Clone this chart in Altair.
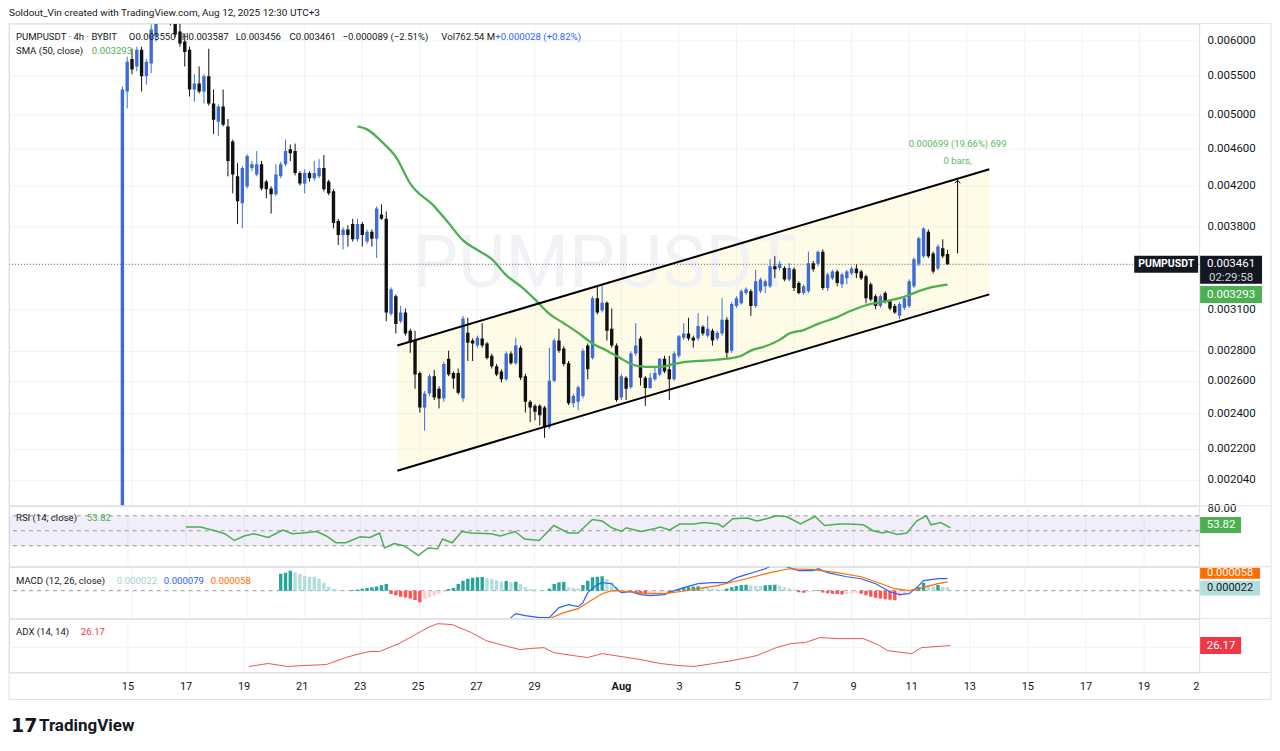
import altair as alt
import pandas as pd

U = 1e-6  # all *_u arrays are prices in micro-USDT (price x 1e6)

# ---------------- candles (4h bars, bar 0 = Jul 14 19:00 UTC+3) ----------------
opens_u = [1850,5290,5730,5625,5860,5490,5665,6055,6600,6360, 6600,6410,6130,5980,5860,5315,5395,5290,5490,5135,
           4910,5100,4855,4680,4295,4020,4190,4385,4315,4425, 4240,4170,4110,4295,4425,4590,4570,4330,4220,4330,
           4275,4295,4385,4240,4140,3850,3720,3770,3820,3680, 3820,3660,3750,3685,3910,3870,3065,3200,3010,3075,
           2940,2870,2650,2435,2520,2630,2550,2490,2745,2650, 2650,2490,2925,2870,2835,2885,2850,2765,2695,2660,
           2610,2780,2715,2820,2630,2470,2445,2445,2435,2320, 2600,2870,2815,2715,2460,2470,2505,2835,2750,3185,
           3090,3150,2955,2835,2495,2620,2560,2780,2885,2620, 2555,2610,2640,2745,2675,2610,2765,2890,2920,2890,
           2885,2970,2905,2940,2885,2920,3020,2800,3125,3145, 3225,3240,3125,3240,3280,3280,3445,3430,3430,3335,
           3420,3305,3225,3240,3470,3465,3570,3265,3345,3400, 3295,3345,3385,3425,3400,3360,3295,3200,3125,3225,
           3160,3125,3050,3110,3125,3280,3465,3530,3750,3555, 3425,3600,3550]
highs_u = [5355,5760,5875,5905,5905,5730,6235,6600,6760,6845, 6680,6520,6250,6100,5905,5520,5625,5520,5875,5315,
           5125,5315,4945,4700,4435,4405,4535,4460,4570,4460, 4260,4190,4425,4450,4700,4645,4655,4350,4370,4350,
           4460,4480,4525,4260,4160,3870,3790,3810,3870,3870, 3840,3770,3770,3990,4010,3940,3270,3215,3125,3105,
           2955,2940,2660,2535,2645,2670,2565,2725,2800,2660, 2680,3050,3035,2885,2905,2995,2860,2780,2710,2675,
           2795,2795,2890,2835,2645,2480,2455,2455,2445,2820, 2885,2955,2830,2730,2520,2570,2815,2850,3200,3280,
           3280,3160,3105,2850,2645,2630,2795,2995,2900,2630, 2650,2695,2750,2765,2765,2795,2910,2995,3035,2905,
           3070,2980,3050,2955,2940,3185,3040,3155,3200,3255, 3270,3255,3415,3350,3335,3505,3530,3490,3445,3470,
           3435,3320,3295,3570,3490,3580,3590,3390,3415,3415, 3390,3415,3445,3460,3415,3375,3310,3215,3215,3240,
           3175,3140,3155,3200,3335,3520,3705,3790,3770,3570, 3635,3680,3587]
lows_u = [1800,5075,5520,5560,5290,5380,5535,5980,6280,6310, 6220,6040,5905,5625,5225,5160,5265,5135,5110,4765,
          4740,4855,4295,4120,3820,3780,4170,4350,4295,4150, 4070,3920,4090,4275,4405,4460,4305,4200,4120,4240,
          4250,4275,4140,4100,3780,3630,3590,3615,3660,3660, 3615,3640,3615,3515,3860,3010,3050,2920,2995,2905,
          2785,2550,2405,2300,2505,2480,2430,2470,2630,2550, 2515,2470,2730,2730,2820,2820,2740,2680,2630,2590,
          2600,2705,2705,2605,2405,2350,2360,2330,2260,2310, 2590,2785,2695,2450,2435,2420,2490,2610,2740,3060,
          3075,2870,2820,2470,2480,2480,2550,2765,2570,2445, 2550,2600,2630,2650,2480,2600,2750,2875,2870,2820,
          2870,2905,2890,2835,2870,2905,2750,2785,3110,3135, 3210,3050,3110,3225,3225,3265,3345,3410,3320,3320,
          3240,3215,3210,3225,3400,3445,3250,3240,3330,3280, 3265,3295,3370,3345,3330,3145,3160,3100,3110,3145,
          3090,3065,3025,3095,3110,3265,3445,3515,3515,3385, 3410,3515,3456]
closes_u = [5315,5690,5585,5860,5490,5690,6160,6520,6360,6680, 6280,6085,5950,5830,5315,5395,5290,5490,5135,4935,
            5100,4875,4460,4315,4040,4385,4515,4425,4425,4170, 4160,4110,4315,4425,4570,4545,4330,4220,4330,4275,
            4330,4385,4160,4120,3830,3720,3770,3720,3680,3820, 3720,3750,3685,3970,3870,3075,3255,2990,3075,2920,
            2855,2640,2435,2520,2630,2495,2490,2710,2640,2615, 2525,3030,2855,2850,2890,2835,2750,2695,2640,2610,
            2780,2715,2835,2620,2470,2435,2410,2390,2320,2600, 2870,2800,2710,2460,2505,2560,2800,2675,3185,3075,
            3150,2940,2835,2480,2630,2550,2780,2835,2620,2555, 2620,2650,2745,2660,2610,2780,2900,2920,2885,2870,
            2975,2920,2955,2870,2925,3020,2785,3140,3185,3240, 3255,3125,3320,3335,3320,3445,3420,3465,3335,3430,
            3265,3225,3280,3470,3420,3570,3265,3375,3400,3305, 3375,3400,3425,3385,3345,3185,3175,3125,3200,3160,
            3105,3075,3140,3185,3320,3505,3690,3780,3530,3400, 3615,3530,3461]

# ---------------- indicators (x = bar index) ----------------
sma_k = [49,51,54,57,60,65,68,71,74,77,80,83,86,89,92,95,98,101,104,106,109,112,115,118,120,123,126,129,131,134,
         137,139,142,145,149,152,155,159,162,164,166,168,172]
sma_u = [4855,4820,4680,4505,4220,3990,3830,3670,3585,3505,3370,3280,3175,3065,2995,2925,2850,2800,2745,2710,
         2690,2690,2710,2725,2730,2735,2745,2765,2800,2830,2875,2920,2945,2990,3040,3090,3130,3160,3185,3210,
         3240,3265,3293]

rsi_k = [14,17,20,22,24,26,28,31,34,36,38,41,43,45,47,50,52,54,55,57,59,60,62,64,66,67,69,71,73,77,
         79,81,82,84,87,90,93,95,98,100,102,104,105,108,111,112,114,116,119,121,124,125,127,130,132,134,136,138,139,141,
         144,145,146,149,151,154,156,158,159,161,163,165,167,168,170,172]
rsi_v = [55,55,50,46,37,43,46,41,51,46,47,49,43,34,34,42,41,47,27,33,30,26,17,27,26,39,34,49,47,46,
         43,47,49,39,37,57,47,47,65,63,54,49,54,49,53,55,51,59,59,61,59,55,66,67,63,66,70,69,66,59,
         69,63,57,59,59,58,50,47,49,45,47,63,70,58,61,53.82]

hist_start = 33  # MACD histogram, one value per bar, in 1e-6
hist_u = [112,119,132,122,112,99,92,92,79,53, 26,13,3,1,1,4,8,12,18,22, 28,36,44,-22,-30,-40,-46,-52,-62,-77,
          -55,-44,-30,-20,-8,11,18,44,66,79, 86,89,90,82,76,69,61,64,55,59, 44,22,11,7,3,2,15,44,55,57,
          22,18,15,37,66,88,92,95,77,55, 26,8,2,-5,-12,-18,-22,-20,-18,-15, -12,-13,-5,11,18,24,28,30,24,20,
          15,11,8,14,22,31,37,39,35,33, 32,36,38,39,33,24,15,7,-10,-14, -8,-2,5,-12,-17,-20,-22,-25,-22,-19,
          -16,-20,-30,-40,-47,-52,-56,-60,-63,-40, -22,-3,11,24,50,38,30,37,26,22]
macd_k = [80,81,82,84,87,89,91,93,95,96,97,99,100,102,103,104,106,108,110,113,115,117,120,123,126,128,130,132,134,136,
          137,139,141,144,145,147,151,154,157,160,162,164,166,167,170,172]
macd_u = [-230,-178,-152,-165,-178,-178,-112,-92,-106,-79,-13,40,53,46,13,-13,-7,-26,-33,-26,0,20,46,53,53,86,106,125,145,175,
          175,152,132,132,145,119,92,79,46,-7,-26,-20,33,66,79,79]
signal_k = [88,89,92,95,97,100,102,106,109,113,116,120,124,130,135,139,144,149,154,157,161,164,166,170,172]
signal_u = [-230,-185,-145,-119,-79,-20,0,-7,-20,-20,-7,13,33,79,119,145,139,119,92,59,13,0,13,46,58]

adx_k = [27,31,35,38,43,47,50,52,54,58,61,64,66,69,73,76,79,83,85,88,90,94,97,100,104,108,112,116,119,123,
         127,132,136,139,142,145,149,154,157,159,164,166,169,172]
adx_v = [12.2,14.2,12.2,12.8,13.5,18.2,20.8,22.2,22.2,27.5,32.8,38.2,40.8,40.2,34.8,29.5,26.8,23.5,24.2,24.8,
         21.5,19.5,18.2,20.8,18.8,16.8,14.2,12.8,12.2,14.2,16.2,19.5,24.8,27.5,28.2,31.5,30.8,30.8,26.8,22.8,
         20.8,24.8,25.5,26.17]

# drawings
ch_k = [57.3, 180.7]
ch_upper_u = [2835, 4370]
ch_lower_u = [2085, 3215]
meas_k = 174.1
meas_from_u, meas_to_u = 3555, 4254

last_close_u, last_sma_u = 3461, 3293
last_rsi, last_hist_u, last_macd_u, last_signal_u, last_adx = 53.82, 22, 79, 58, 26.17

price_ticks = [0.006, 0.0055, 0.005, 0.0046, 0.0042, 0.0038, 0.0031, 0.0028, 0.0026, 0.0024, 0.0022, 0.00204]
date_tick_bars = [2, 14, 26, 38, 50, 62, 74, 86, 104, 116, 128, 140, 152, 164, 176, 188, 200, 212, 222.8]
date_tick_labels = ["15", "17", "19", "21", "23", "25", "27", "29", "Aug", "3", "5", "7", "9", "11", "13",
                    "15", "17", "19", "2"]

# ---------------- style ----------------
FONT = "Roboto"
TXT = "#131722"
GRID = "#f0f2f6"
SEP = "#e0e3eb"
UP = "#3d6bd8"
DOWN = "#111111"
GREEN = "#4caf50"
LEG = 9.6
W = 1192
H_MAIN, H_RSI, H_MACD, H_ADX = 483, 61, 52, 54
RIGHT = 1264

one = pd.DataFrame({"a": [0]})
xs = alt.Scale(domain=[-22.6, 223.4], nice=False, zero=False)


def X(f="k"):
    return alt.X(f"{f}:Q", scale=xs, axis=None)


def text(txt, x, y, color=TXT, size=LEG, weight="normal", align="left", font=FONT):
    return alt.Chart(one).mark_text(text=txt, color=color, fontSize=size, fontWeight=weight, align=align,
                                    baseline="middle", font=font).encode(x=alt.value(x), y=alt.value(y))


def hrule(y, x1=0, x2=RIGHT, color=SEP):
    return alt.Chart(one).mark_rule(color=color, strokeWidth=1).encode(
        x=alt.value(x1), x2=alt.value(x2), y=alt.value(y))


def vrule(x, y1, y2, color=SEP):
    return alt.Chart(one).mark_rule(color=color, strokeWidth=1).encode(
        x=alt.value(x), y=alt.value(y1), y2=alt.value(y2))


vg_df = pd.DataFrame({"k": date_tick_bars[:-1]})


def vgrid():
    return alt.Chart(vg_df).mark_rule(color=GRID, strokeWidth=1).encode(x=X())


# ---------------- main price pane ----------------
ps = alt.Scale(type="log", domain=[1913.1 * U, 6250 * U], nice=False, zero=False)
price_axis = alt.Axis(orient="right", values=price_ticks, format=".6f", grid=True, gridColor=GRID,
                      ticks=False, domain=False, labelFont=FONT, labelFontSize=11.5, labelColor=TXT,
                      labelPadding=8, title=None, labelOverlap=False, labelBound=False, labelFlush=False)


def Yp(f):
    return alt.Y(f"{f}:Q", scale=ps, axis=price_axis, title=None)


def Yd(v):
    return alt.YDatum(v, type="quantitative", scale=ps, axis=price_axis)


n = len(opens_u)
cdf = pd.DataFrame({"k": list(range(n)),
                    "o": [v * U for v in opens_u], "h": [v * U for v in highs_u],
                    "l": [v * U for v in lows_u], "c": [v * U for v in closes_u]})
cdf["dir"] = ["up" if c >= o else "down" for o, c in zip(cdf["o"], cdf["c"])]
ccol = alt.Color("dir:N", scale=alt.Scale(domain=["up", "down"], range=[UP, DOWN]), legend=None)

sma_df = pd.DataFrame({"k": sma_k, "v": [v * U for v in sma_u]})
ch_df = pd.DataFrame({"k": ch_k, "lo": [v * U for v in ch_lower_u], "hi": [v * U for v in ch_upper_u]})
meas_df = pd.DataFrame({"k": [meas_k], "a": [meas_from_u * U], "b": [meas_to_u * U]})

bg = alt.Chart(one).mark_rect(color="white", opacity=0).encode(
    x=alt.value(-8), x2=alt.value(1272), y=alt.value(-22), y2=alt.value(729))

channel_fill = alt.Chart(ch_df).mark_area(color="#fbf2a8", opacity=0.28).encode(x=X(), y=Yp("lo"), y2="hi")
watermark = alt.Chart(one).mark_text(text="PUMPUSDT", fontSize=73, color="#f1f2f5", font=FONT,
                                     align="center", baseline="middle").encode(
    x=alt.value(W / 2), y=alt.value(H_MAIN / 2))
price_line = alt.Chart(one).mark_rule(color="#555a66", strokeDash=[1, 2], strokeWidth=1).encode(
    y=Yd(last_close_u * U))
wicks = alt.Chart(cdf).mark_rule(strokeWidth=1, clip=True).encode(x=X(), y=Yp("l"), y2="h", color=ccol)
bodies = alt.Chart(cdf).mark_bar(width=3.4, clip=True).encode(x=X(), y=Yp("o"), y2="c", color=ccol)
sma_line = alt.Chart(sma_df).mark_line(color=GREEN, strokeWidth=2.3, interpolate="monotone", clip=True).encode(
    x=X(), y=Yp("v"))
ch_hi = alt.Chart(ch_df).mark_line(color="black", strokeWidth=2).encode(x=X(), y=Yp("hi"))
ch_lo = alt.Chart(ch_df).mark_line(color="black", strokeWidth=2).encode(x=X(), y=Yp("lo"))
meas_rule = alt.Chart(meas_df).mark_rule(color="black", strokeWidth=1).encode(x=X(), y=Yp("a"), y2="b")
meas_head = alt.Chart(meas_df).mark_point(shape="M-0.8,0.9L0,0L0.8,0.9", size=45, filled=False, color="black",
                                          strokeWidth=1, opacity=1).encode(x=X(), y=Yp("b"))
meas_t1 = alt.Chart(meas_df).mark_text(text="0.000699 (19.66%) 699", color="#5cb860", fontSize=9.5, font=FONT,
                                       dy=-36, align="center").encode(x=X(), y=Yp("b"))
meas_t2 = alt.Chart(meas_df).mark_text(text="0 bars,", color="#5cb860", fontSize=9.5, font=FONT,
                                       dy=-19, align="center").encode(x=X(), y=Yp("b"))

# right-side price labels
sym_box = alt.Chart(one).mark_rect(color=TXT, yOffset=-8.5, y2Offset=8.5).encode(
    x=alt.value(1127), x2=alt.value(1191), y=Yd(last_close_u * U), y2=alt.Y2Datum(last_close_u * U))
sym_txt = alt.Chart(one).mark_text(text="PUMPUSDT", color="white", fontSize=10.5, fontWeight="bold", font=FONT,
                                   align="center", baseline="middle").encode(
    x=alt.value(1159), y=Yd(last_close_u * U))
px_box = alt.Chart(one).mark_rect(color=TXT, yOffset=-8.5, y2Offset=19.5).encode(
    x=alt.value(1193), x2=alt.value(1255), y=Yd(last_close_u * U), y2=alt.Y2Datum(last_close_u * U))
px_txt = alt.Chart(one).mark_text(text="0.003461", color="white", fontSize=11.5, font=FONT,
                                  align="center", baseline="middle").encode(
    x=alt.value(1224), y=Yd(last_close_u * U))
cd_txt = alt.Chart(one).mark_text(text="02:29:58", color="#d1d4dc", fontSize=11.5, font=FONT, dy=13.5,
                                  align="center", baseline="middle").encode(
    x=alt.value(1224), y=Yd(last_close_u * U))
sma_box = alt.Chart(one).mark_rect(color=GREEN, yOffset=1.5, y2Offset=18.5).encode(
    x=alt.value(1193), x2=alt.value(1255), y=Yd(last_sma_u * U), y2=alt.Y2Datum(last_sma_u * U))
sma_txt = alt.Chart(one).mark_text(text="0.003293", color="white", fontSize=11.5, font=FONT, dy=10,
                                   align="center", baseline="middle").encode(
    x=alt.value(1224), y=Yd(last_sma_u * U))

main = alt.layer(
    bg, vgrid(), channel_fill, watermark, price_line, wicks, bodies, sma_line, ch_hi, ch_lo,
    meas_rule, meas_head, meas_t1, meas_t2,
    text("Soldout_Vin created with TradingView.com, Aug 12, 2025 12:30 UTC+3", 0, -11, size=10),
    text("PUMPUSDT · 4h · BYBIT", 7, 13),
    text("O0.003550", 120, 13), text("H0.003587", 173, 13), text("L0.003456", 227, 13),
    text("C0.003461", 281, 13), text("−0.000089 (−2.51%)", 334, 13), text("Vol762.54 M", 433, 13),
    text("+0.000028 (+0.82%)", 487, 13, color="#2962ff"),
    text("SMA (50, close)", 7, 27), text("0.003293", 83, 27, color=GREEN),
    sym_box, sym_txt, px_box, px_txt, cd_txt, sma_box, sma_txt,
    hrule(0), vrule(0, 0, H_MAIN), vrule(RIGHT, 0, H_MAIN),
).properties(width=W, height=H_MAIN)

# ---------------- RSI pane ----------------
rs = alt.Scale(domain=[2, 83.33], nice=False, zero=False)
rsi_axis = alt.Axis(orient="right", values=[80], format=".2f", grid=False, ticks=False, domain=False,
                    labelFont=FONT, labelFontSize=11.5, labelColor=TXT, labelPadding=8, title=None)


def Yr(f):
    return alt.Y(f"{f}:Q", scale=rs, axis=rsi_axis, title=None)


def Yrd(v):
    return alt.YDatum(v, type="quantitative", scale=rs, axis=rsi_axis)


rsi_df = pd.DataFrame({"k": rsi_k, "v": rsi_v})
bands = pd.DataFrame({"v": [70, 50, 30]})
rsi = alt.layer(
    vgrid(),
    alt.Chart(one).mark_rect(color="#7e57c2", opacity=0.1).encode(
        x=alt.value(0), x2=alt.value(W), y=Yrd(70), y2=alt.Y2Datum(30)),
    alt.Chart(bands).mark_rule(color="#9598a1", strokeDash=[4, 4], strokeWidth=1).encode(y=Yr("v")),
    alt.Chart(rsi_df).mark_line(color=GREEN, strokeWidth=1.5, clip=True).encode(x=X(), y=Yr("v")),
    alt.Chart(one).mark_rect(color=GREEN, yOffset=-11, y2Offset=5).encode(
        x=alt.value(1193), x2=alt.value(1234), y=Yrd(last_rsi), y2=alt.Y2Datum(last_rsi)),
    alt.Chart(one).mark_text(text="53.82", color="white", fontSize=11.5, font=FONT, dy=-3,
                             align="center", baseline="middle").encode(x=alt.value(1214), y=Yrd(last_rsi)),
    text("RSI (14, close)", 7, 12), text("53.82", 78, 12, color=GREEN),
    hrule(0), vrule(0, 0, H_RSI), vrule(RIGHT, 0, H_RSI),
).properties(width=W, height=H_RSI)

# ---------------- MACD pane ----------------
ms = alt.Scale(domain=[-184.8 * U, 158.4 * U], nice=False, zero=False)


def Ym(f):
    return alt.Y(f"{f}:Q", scale=ms, axis=None, title=None)


def Ymd(v):
    return alt.YDatum(v, type="quantitative", scale=ms, axis=None)


hist_cols = []
prev = None
for v in hist_u:
    if v >= 0:
        hist_cols.append("#26a69a" if (prev is None or v > prev) else "#b2dfdb")
    else:
        hist_cols.append("#ffcdd2" if (prev is not None and v > prev) else "#ff5252")
    prev = v
hist_df = pd.DataFrame({"k": [hist_start + i for i in range(len(hist_u))],
                        "h": [v * U for v in hist_u], "col": hist_cols})
macd_df = pd.DataFrame({"k": macd_k, "v": [v * U for v in macd_u]})
sig_df = pd.DataFrame({"k": signal_k, "v": [v * U for v in signal_u]})

macd = alt.layer(
    vgrid(),
    alt.Chart(one).mark_rule(color="#9598a1", strokeDash=[4, 4], strokeWidth=1).encode(y=Ymd(0)),
    alt.Chart(hist_df).mark_bar(width=3.4, clip=True).encode(
        x=X(), y=Ym("h"), y2=alt.Y2Datum(0), color=alt.Color("col:N", scale=None)),
    alt.Chart(macd_df).mark_line(color="#2962ff", strokeWidth=1.2, clip=True).encode(x=X(), y=Ym("v")),
    alt.Chart(sig_df).mark_line(color="#ff6d00", strokeWidth=1.2, clip=True).encode(x=X(), y=Ym("v")),
    alt.Chart(one).mark_rect(color="#ff6d00", yOffset=-14.2, y2Offset=-3.2).encode(
        x=alt.value(1193), x2=alt.value(1253), y=Ymd(last_signal_u * U), y2=alt.Y2Datum(last_signal_u * U)),
    alt.Chart(one).mark_text(text="0.000058", color="white", fontSize=11, font=FONT, dy=-8.7,
                             align="center", baseline="middle").encode(
        x=alt.value(1223), y=Ymd(last_signal_u * U)),
    alt.Chart(one).mark_rect(color="#b2dfdb", yOffset=-6.7, y2Offset=8.3).encode(
        x=alt.value(1193), x2=alt.value(1253), y=Ymd(last_hist_u * U), y2=alt.Y2Datum(last_hist_u * U)),
    alt.Chart(one).mark_text(text="0.000022", color=TXT, fontSize=11, font=FONT, dy=0.8,
                             align="center", baseline="middle").encode(
        x=alt.value(1223), y=Ymd(last_hist_u * U)),
    text("MACD (12, 26, close)", 7, 14),
    text("0.000022", 108, 14, color="#9fd3cd"),
    text("0.000079", 155, 14, color="#2962ff"),
    text("0.000058", 202, 14, color="#ff6d00"),
    hrule(0), vrule(0, 0, H_MACD), vrule(RIGHT, 0, H_MACD),
).properties(width=W, height=H_MACD)

# ---------------- ADX pane + time axis ----------------
ads = alt.Scale(domain=[8.17, 44.17], nice=False, zero=False)


def Ya(f):
    return alt.Y(f"{f}:Q", scale=ads, axis=None, title=None)


def Yad(v):
    return alt.YDatum(v, type="quantitative", scale=ads, axis=None)


adx_df = pd.DataFrame({"k": adx_k, "v": adx_v})
lab_df = pd.DataFrame({"k": date_tick_bars, "lab": date_tick_labels})
lab_norm = lab_df[lab_df["lab"] != "Aug"]
lab_bold = lab_df[lab_df["lab"] == "Aug"]

adx = alt.layer(
    vgrid(),
    alt.Chart(one).mark_rule(color=GRID, strokeWidth=1).encode(y=Yad(25)),
    alt.Chart(adx_df).mark_line(color="#ef5350", strokeWidth=1, clip=True).encode(x=X(), y=Ya("v")),
    alt.Chart(one).mark_rect(color="#f23645", yOffset=-8.5, y2Offset=8.5).encode(
        x=alt.value(1193), x2=alt.value(1234), y=Yad(last_adx), y2=alt.Y2Datum(last_adx)),
    alt.Chart(one).mark_text(text="26.17", color="white", fontSize=11.5, font=FONT,
                             align="center", baseline="middle").encode(x=alt.value(1214), y=Yad(last_adx)),
    text("ADX (14, 14)", 7, 13), text("26.17", 72, 13, color="#f23645"),
    alt.Chart(lab_norm).mark_text(fontSize=11, font=FONT, color=TXT, align="center", baseline="middle").encode(
        x=X(), y=alt.value(68), text="lab:N"),
    alt.Chart(lab_bold).mark_text(fontSize=11, font=FONT, color=TXT, fontWeight="bold", align="center",
                                  baseline="middle").encode(x=X(), y=alt.value(68), text="lab:N"),
    text("17", 2, 108, size=19, weight=900, font="DejaVu Sans"),
    text("TradingView", 30, 108, size=17, weight="bold"),
    hrule(0), hrule(H_ADX), hrule(81), vrule(0, 0, 81), vrule(RIGHT, 0, 81),
).properties(width=W, height=H_ADX)

chart = alt.vconcat(main, rsi, macd, adx, spacing=0, bounds="flush").properties(
    padding=0, autosize=alt.AutoSizeParams(type="pad")
).configure_view(stroke=None).configure(background="white", font=FONT)

chart.save("out.html", embed_options={"renderer": "svg", "actions": False})
